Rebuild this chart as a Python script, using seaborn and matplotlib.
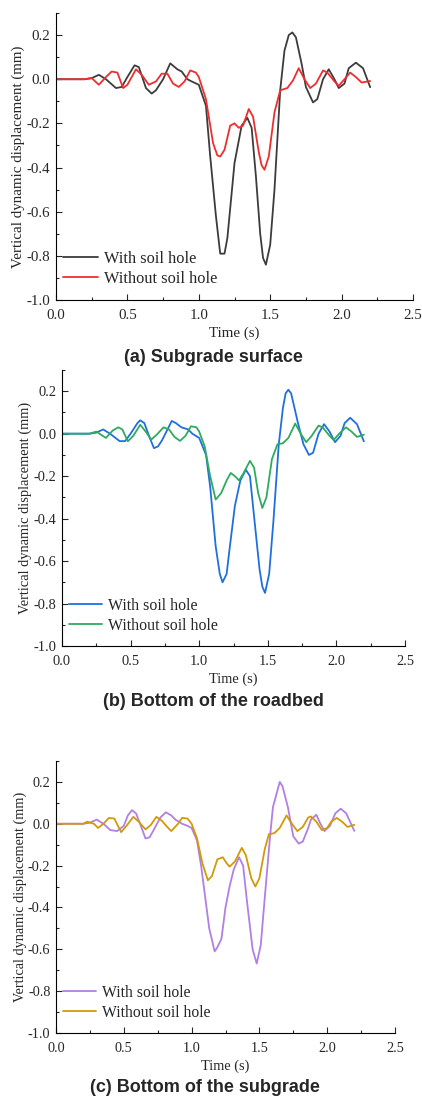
import matplotlib
matplotlib.use('Agg')
import matplotlib.pyplot as plt
from matplotlib.ticker import MultipleLocator, FormatStrFormatter
import seaborn as sns

# (a) Subgrade surface
ta_with = [0, 0.2, 0.25, 0.3, 0.35, 0.42, 0.46, 0.5, 0.55, 0.58, 0.63, 0.67, 0.7, 0.75, 0.8, 0.85, 0.88, 0.92,
           0.95, 1.0, 1.05, 1.08, 1.12, 1.15, 1.18, 1.2, 1.25, 1.3, 1.34, 1.37, 1.4, 1.43, 1.45, 1.47, 1.5, 1.53,
           1.57, 1.6, 1.63, 1.655, 1.68, 1.72, 1.75, 1.8, 1.83, 1.87, 1.91, 1.95, 1.98, 2.02, 2.05, 2.1, 2.15,
           2.2]
va_with = [0, 0, 0.005, 0.02, 0.0, -0.04, -0.035, 0.01, 0.063, 0.055, -0.04, -0.065, -0.05, 0.0, 0.072, 0.045,
           0.035, 0.0, -0.01, -0.025, -0.12, -0.35, -0.62, -0.79, -0.79, -0.72, -0.38, -0.21, -0.175, -0.22,
           -0.44, -0.7, -0.81, -0.84, -0.75, -0.5, -0.05, 0.13, 0.2, 0.212, 0.19, 0.07, -0.035, -0.105, -0.09,
           0.0, 0.045, 0.0, -0.04, -0.02, 0.05, 0.075, 0.05, -0.036]
ta_wo = [0, 0.2, 0.25, 0.3, 0.35, 0.39, 0.43, 0.47, 0.5, 0.56, 0.6, 0.65, 0.7, 0.74, 0.78, 0.82, 0.86, 0.9, 0.94,
         0.98, 1.0, 1.05, 1.1, 1.13, 1.15, 1.18, 1.22, 1.25, 1.28, 1.31, 1.35, 1.38, 1.42, 1.44, 1.46, 1.49,
         1.53, 1.57, 1.62, 1.66, 1.7, 1.74, 1.78, 1.82, 1.87, 1.9, 1.95, 1.98, 2.02, 2.06, 2.1, 2.14, 2.2]
va_wo = [0, 0, 0.005, -0.025, 0.01, 0.035, 0.03, -0.04, -0.025, 0.045, 0.02, -0.025, -0.01, 0.025, 0.025, -0.02,
         -0.035, -0.01, 0.04, 0.03, 0.01, -0.09, -0.29, -0.345, -0.35, -0.32, -0.21, -0.2, -0.22, -0.21,
         -0.135, -0.17, -0.33, -0.39, -0.41, -0.35, -0.15, -0.05, -0.04, -0.005, 0.05, 0.0, -0.04, -0.02,
         0.04, 0.03, -0.01, -0.03, 0.0, 0.03, 0.01, -0.015, -0.008]

# (b) Bottom of the roadbed
tb_with = [0, 0.2, 0.25, 0.3, 0.35, 0.42, 0.46, 0.5, 0.55, 0.57, 0.6, 0.64, 0.67, 0.7, 0.73, 0.8, 0.83, 0.87,
           0.92, 0.95, 1.0, 1.05, 1.08, 1.12, 1.15, 1.17, 1.2, 1.22, 1.26, 1.3, 1.34, 1.37, 1.4, 1.44, 1.46,
           1.48, 1.51, 1.54, 1.58, 1.61, 1.63, 1.65, 1.67, 1.72, 1.76, 1.8, 1.83, 1.87, 1.91, 1.95, 1.99, 2.03,
           2.06, 2.1, 2.15, 2.2]
vb_with = [0, 0, 0.005, 0.02, 0.0, -0.035, -0.035, 0.0, 0.05, 0.063, 0.05, -0.02, -0.068, -0.06, -0.03, 0.06,
           0.05, 0.03, 0.02, 0.0, -0.02, -0.1, -0.25, -0.53, -0.66, -0.70, -0.66, -0.55, -0.34, -0.22, -0.17,
           -0.2, -0.39, -0.64, -0.72, -0.75, -0.66, -0.42, -0.05, 0.12, 0.19, 0.207, 0.19, 0.05, -0.05, -0.1,
           -0.09, 0.0, 0.045, 0.01, -0.04, -0.01, 0.05, 0.075, 0.045, -0.036]
tb_wo = [0, 0.2, 0.25, 0.32, 0.37, 0.41, 0.44, 0.48, 0.52, 0.57, 0.61, 0.65, 0.69, 0.74, 0.78, 0.82, 0.86, 0.9,
         0.94, 0.98, 1.0, 1.04, 1.08, 1.12, 1.16, 1.2, 1.23, 1.26, 1.29, 1.32, 1.37, 1.4, 1.43, 1.46, 1.49,
         1.53, 1.57, 1.61, 1.65, 1.7, 1.74, 1.78, 1.82, 1.87, 1.9, 1.95, 1.98, 2.02, 2.07, 2.11, 2.15, 2.2]
vb_wo = [0, 0, 0.01, -0.02, 0.015, 0.03, 0.02, -0.036, -0.01, 0.042, 0.01, -0.028, -0.005, 0.03, 0.02, -0.015,
         -0.034, -0.01, 0.035, 0.03, 0.01, -0.06, -0.2, -0.31, -0.28, -0.22, -0.185, -0.2, -0.22, -0.19,
         -0.128, -0.16, -0.28, -0.35, -0.3, -0.12, -0.05, -0.045, -0.02, 0.048, 0.0, -0.04, -0.01, 0.038,
         0.03, -0.01, -0.03, 0.0, 0.03, 0.01, -0.015, -0.005]

# (c) Bottom of the subgrade
tc_with = [0, 0.2, 0.25, 0.3, 0.35, 0.4, 0.45, 0.5, 0.53, 0.56, 0.59, 0.62, 0.66, 0.69, 0.72, 0.77, 0.81, 0.85,
           0.88, 0.93, 0.97, 1.0, 1.04, 1.07, 1.1, 1.13, 1.17, 1.19, 1.22, 1.25, 1.28, 1.31, 1.35, 1.38, 1.41,
           1.45, 1.48, 1.51, 1.54, 1.58, 1.6, 1.65, 1.67, 1.71, 1.75, 1.79, 1.82, 1.86, 1.88, 1.92, 1.95, 1.98,
           2.02, 2.06, 2.1, 2.14, 2.2]
vc_with = [0, 0, 0.005, 0.02, 0.0, -0.03, -0.035, -0.01, 0.04, 0.065, 0.05, 0.0, -0.07, -0.065, -0.03, 0.03,
           0.055, 0.04, 0.02, 0.0, -0.01, -0.02, -0.08, -0.2, -0.35, -0.5, -0.61, -0.59, -0.55, -0.4, -0.3,
           -0.22, -0.16, -0.2, -0.38, -0.6, -0.668, -0.58, -0.35, -0.05, 0.08, 0.2, 0.18, 0.08, -0.06, -0.095,
           -0.085, -0.02, 0.02, 0.043, 0.0, -0.035, -0.01, 0.05, 0.072, 0.05, -0.034]
tc_wo = [0, 0.2, 0.23, 0.28, 0.31, 0.35, 0.39, 0.43, 0.48, 0.52, 0.57, 0.61, 0.66, 0.7, 0.74, 0.78, 0.82, 0.85,
         0.9, 0.93, 0.97, 1.0, 1.04, 1.08, 1.12, 1.15, 1.19, 1.23, 1.26, 1.28, 1.32, 1.37, 1.4, 1.44, 1.47,
         1.5, 1.54, 1.57, 1.61, 1.65, 1.7, 1.74, 1.78, 1.82, 1.86, 1.88, 1.92, 1.96, 2.0, 2.03, 2.07, 2.11,
         2.15, 2.2]
vc_wo = [0, 0, 0.01, 0.0, -0.02, 0.0, 0.028, 0.025, -0.04, -0.01, 0.033, 0.01, -0.027, -0.005, 0.033, 0.015,
         -0.015, -0.035, 0.0, 0.028, 0.025, 0.0, -0.07, -0.19, -0.27, -0.25, -0.17, -0.16, -0.19, -0.205,
         -0.18, -0.115, -0.15, -0.26, -0.3, -0.26, -0.12, -0.05, -0.045, -0.02, 0.04, 0.0, -0.035, -0.015,
         0.03, 0.035, 0.01, -0.03, -0.02, 0.01, 0.028, 0.01, -0.015, -0.005]

series_labels = ['With soil hole', 'Without soil hole']
panel_titles = ['(a) Subgrade surface', '(b) Bottom of the roadbed', '(c) Bottom of the subgrade']

sns.set_style('ticks')
plt.rcParams['font.family'] = ['Liberation Serif', 'DejaVu Serif']
plt.rcParams['axes.unicode_minus'] = False

W, H = 422, 1098
fig = plt.figure(figsize=(W / 100, H / 100), dpi=100)


def px_axes(left, right, top, bottom):
    return fig.add_axes([left / W, 1 - bottom / H, (right - left) / W, (bottom - top) / H])


def draw_panel(ax, t1, v1, c1, t2, v2, c2, fs):
    sns.lineplot(x=t1, y=v1, ax=ax, color=c1, linewidth=1.3, label=series_labels[0], sort=False)
    sns.lineplot(x=t2, y=v2, ax=ax, color=c2, linewidth=1.3, label=series_labels[1], sort=False)
    ax.set_xlim(0, 2.5)
    ax.set_ylim(-1.0, 0.3)
    ax.xaxis.set_major_locator(MultipleLocator(0.5))
    ax.xaxis.set_minor_locator(MultipleLocator(0.25))
    ax.set_yticks([-1.0, -0.8, -0.6, -0.4, -0.2, 0.0, 0.2])
    ax.yaxis.set_minor_locator(MultipleLocator(0.1))
    ax.xaxis.set_major_formatter(FormatStrFormatter('%.1f'))
    ax.yaxis.set_major_formatter(FormatStrFormatter('%.1f'))
    ax.tick_params(which='major', direction='in', length=4, width=0.8, labelsize=fs)
    ax.tick_params(which='minor', direction='in', length=2.2, width=0.8)
    ax.tick_params(axis='x', which='major', pad=6.5)
    ax.tick_params(axis='y', which='major', pad=4)
    for s in ['top', 'right']:
        ax.spines[s].set_visible(False)
    for s in ['left', 'bottom']:
        ax.spines[s].set_linewidth(0.8)
        ax.spines[s].set_color('black')
    ax.set_xlabel('Time (s)', fontsize=fs, labelpad=3)
    ax.set_ylabel('Vertical dynamic displacement (mm)', fontsize=fs, labelpad=1)
    ax.legend(loc='lower left', bbox_to_anchor=(0.02, 0.045), frameon=False, fontsize=fs + 1,
              handlelength=2.1, handletextpad=0.4, borderaxespad=0, borderpad=0, labelspacing=0.25)


ax_a = px_axes(56, 413, 13, 300)
draw_panel(ax_a, ta_with, va_with, '#3c3c3c', ta_wo, va_wo, '#ee2e2e', 10.8)
ax_b = px_axes(62, 405, 370, 646)
draw_panel(ax_b, tb_with, vb_with, '#1f6fe0', tb_wo, vb_wo, '#2eab5e', 10.4)
ax_c = px_axes(56, 395, 761, 1033)
draw_panel(ax_c, tc_with, vc_with, '#b27fe3', tc_wo, vc_wo, '#d09a08', 10.3)

title_pos = [(213, 358), (213, 701), (205, 1088)]
for (x, y), title in zip(title_pos, panel_titles):
    fig.text(x / W, 1 - y / H, title, ha='center', va='center', fontsize=13,
             fontweight='bold', family=['Liberation Sans', 'DejaVu Sans'])

fig.savefig('out.png', dpi=100)
